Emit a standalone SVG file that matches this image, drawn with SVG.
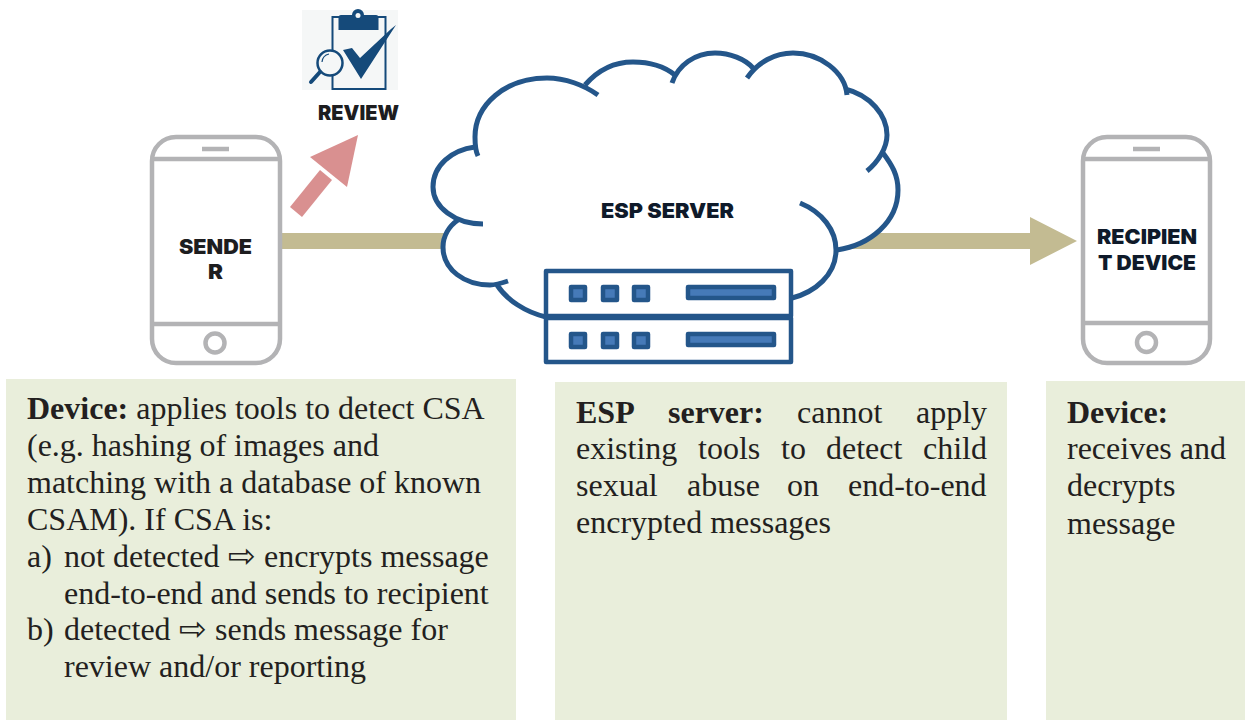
<svg xmlns="http://www.w3.org/2000/svg" width="1245" height="720" viewBox="0 0 1245 720">
<style>
.panel{fill:#e9eedb}
.body{font-family:"Liberation Serif","Times New Roman",serif;font-size:32px;fill:#231f20}
.b{font-weight:700}
.sym{font-family:"DejaVu Sans",sans-serif;font-size:33px}
.label{font-family:"Inter","Liberation Sans",sans-serif;font-weight:900;font-size:20px;fill:#1d1d1f}
.navy{fill:#0f1a2a}
.phone{fill:#fff;stroke:#b3b3b5;stroke-width:4.5}
.pl{fill:none;stroke:#b3b3b5;stroke-width:4.5}
.cloud{fill:none;stroke:#24568a;stroke-width:5}
.srv{fill:#fff;stroke:#24568a;stroke-width:4.5;stroke-linejoin:round}
.led{fill:#467ab8;stroke:#24568a;stroke-width:4.5;stroke-linejoin:round}
.ic{fill:#154a7a}
</style>
<rect width="1245" height="720" fill="#fff"/>
<g id="panel-sender">
<rect class="panel" x="6" y="379" width="510" height="341"/>
<text class="body" x="27" y="419"><tspan class="b">Device:</tspan> applies tools to detect CSA</text>
<text class="body" x="27" y="456">(e.g. hashing of images and</text>
<text class="body" x="27" y="493">matching with a database of known</text>
<text class="body" x="27" y="530">CSAM). If CSA is:</text>
<text class="body" x="27" y="567">a)</text>
<text class="body" x="64" y="567">not detected <tspan class="sym" x="228">⇨</tspan> <tspan x="264">encrypts message</tspan></text>
<text class="body" x="64" y="604">end-to-end and sends to recipient</text>
<text class="body" x="27" y="640">b)</text>
<text class="body" x="64" y="640">detected <tspan class="sym" x="179">⇨</tspan> <tspan x="215">sends message for</tspan></text>
<text class="body" x="64" y="677">review and/or reporting</text>
</g>
<g id="panel-server">
<rect class="panel" x="555" y="382" width="452" height="338"/>
<text class="body" y="423"><tspan class="b" x="576">ESP</tspan> <tspan class="b" x="668">server:</tspan> <tspan x="797">cannot</tspan> <tspan x="916">apply</tspan></text>
<text class="body" y="459"><tspan x="576">existing</tspan> <tspan x="698">tools</tspan> <tspan x="781">to</tspan> <tspan x="826">detect</tspan> <tspan x="923">child</tspan></text>
<text class="body" y="496"><tspan x="576">sexual</tspan> <tspan x="687">abuse</tspan> <tspan x="787">on</tspan> <tspan x="848">end-to-end</tspan></text>
<text class="body" x="576" y="533">encrypted messages</text>
</g>
<g id="panel-recipient">
<rect class="panel" x="1046" y="381" width="199" height="339"/>
<text class="body" x="1067" y="423"><tspan class="b">Device:</tspan></text>
<text class="body" x="1067" y="459">receives and</text>
<text class="body" x="1067" y="496">decrypts</text>
<text class="body" x="1067" y="534">message</text>
</g>
<g id="connectors">
<rect x="282" y="233" width="170" height="16" fill="#c3bb92"/>
<polygon points="840,233 1030,233 1030,217 1077,241 1030,265 1030,249 840,249" fill="#c3bb92"/>
<polygon points="358,135 310,157 347,187" fill="#d99090"/>
<polygon points="320,170 332,180 302,217 290,207" fill="#d99090"/>
</g>
<g id="sender">
<rect class="phone" x="152" y="137" width="128" height="226" rx="24"/>
<path class="pl" d="M152 159H280M152 324H280M202 149H229"/>
<circle class="pl" cx="215" cy="343" r="9.500"/>
<text class="label" x="179" y="254" textLength="73" lengthAdjust="spacingAndGlyphs">SENDE</text>
<text class="label" x="208" y="279" textLength="15" lengthAdjust="spacingAndGlyphs">R</text>
</g>
<g id="recipient">
<rect class="phone" x="1083" y="137" width="127" height="226" rx="24"/>
<path class="pl" d="M1083 159H1210M1083 323H1210M1133 149H1160"/>
<circle class="pl" cx="1146.500" cy="342.500" r="9.500"/>
<text class="label navy" x="1097" y="244" textLength="100" lengthAdjust="spacingAndGlyphs">RECIPIEN</text>
<text class="label navy" x="1098" y="270" textLength="98" lengthAdjust="spacingAndGlyphs">T DEVICE</text>
</g>
<g id="review">
<rect x="302" y="10" width="96" height="80" fill="#f5f7f7"/>
<rect x="332.500" y="17" width="53" height="72" fill="none" stroke="#154a7a" stroke-width="2"/>
<path class="ic" d="M341 15h11a6 6 0 0 1 12 0h12a2.500 2.500 0 0 1 2.500 2.500v12.500h-40v-12.500a2.500 2.500 0 0 1 2.500-2.500z"/>
<circle cx="358" cy="15.500" r="2.500" fill="#f5f7f7"/>
<polygon class="ic" points="343,50 352,48 360,58 391,29 396,25 361,79"/>
<circle cx="330" cy="63" r="12.500" fill="#f5f7f7" stroke="#154a7a" stroke-width="2.500"/>
<path d="M320 72L311 82" stroke="#154a7a" stroke-width="4" stroke-linecap="round"/>
<path d="M322 62a9 9 0 0 1 7-8" fill="none" stroke="#154a7a" stroke-width="1.200"/>
<text class="label" x="318" y="120" textLength="81" lengthAdjust="spacingAndGlyphs">REVIEW</text>
</g>
<g id="esp-server">
<path d="M497 285C475 280 443 270 443 247C443 236 448 226 458 220C445 215 433 203 433 187C433 165 452 150 475 147C470 105 505 78 547 78C562 78 575 81 585 85C598 70 615 62 633 62C650 62 665 67 675 75C685 60 700 53 715 53C730 53 745 59 753 68C765 58 778 53 793 53C820 53 842 72 847 95C870 100 887 118 887 135C887 143 886 148 883 153C892 165 898 175 898 190C898 222 870 245 837 250C835 275 815 292 792 298L791 340H546V317C525 312 507 300 497 285Z" fill="#fff"/>
<path class="cloud" d="M508 281C502 283 496 285 490 285C465 285 443 270 443 247C443 236 449 226 458 220"/>
<path class="cloud" d="M483 224C455 224 433 207 433 187C433 165 452 150 475 147"/>
<path class="cloud" d="M478 156C475 150 475 142 475 137C475 105 505 78 547 78C565 78 584 85 598 95"/>
<path class="cloud" d="M585 85C598 70 615 62 633 62C650 62 665 67 675 75"/>
<path class="cloud" d="M672 83C678 65 695 53 715 53C730 53 745 59 753 68"/>
<path class="cloud" d="M747 78C758 62 775 53 793 53C820 53 845 72 847 95"/>
<path class="cloud" d="M845 89C870 95 887 115 887 135C887 148 878 162 867 171"/>
<path class="cloud" d="M883 153C892 165 898 175 898 190C898 222 870 245 837 250"/>
<path class="cloud" d="M800 203C822 212 836 230 836 250C836 275 815 292 792 298"/>
<path class="cloud" d="M497 285C507 300 525 312 546 317"/>
<text class="label navy" x="601" y="218" textLength="133" lengthAdjust="spacingAndGlyphs">ESP SERVER</text>
<rect class="srv" x="546" y="271" width="245" height="45"/>
<rect class="srv" x="546" y="318" width="245" height="44"/>
<rect class="led" x="571" y="287" width="14" height="13"/><rect class="led" x="603" y="287" width="14" height="13"/><rect class="led" x="634" y="287" width="14" height="13"/>
<rect class="led" x="688" y="287" width="86" height="11"/>
<rect class="led" x="571" y="334" width="14" height="13"/><rect class="led" x="603" y="334" width="14" height="13"/><rect class="led" x="634" y="334" width="14" height="13"/>
<rect class="led" x="688" y="334" width="86" height="11"/>
</g>
</svg>
